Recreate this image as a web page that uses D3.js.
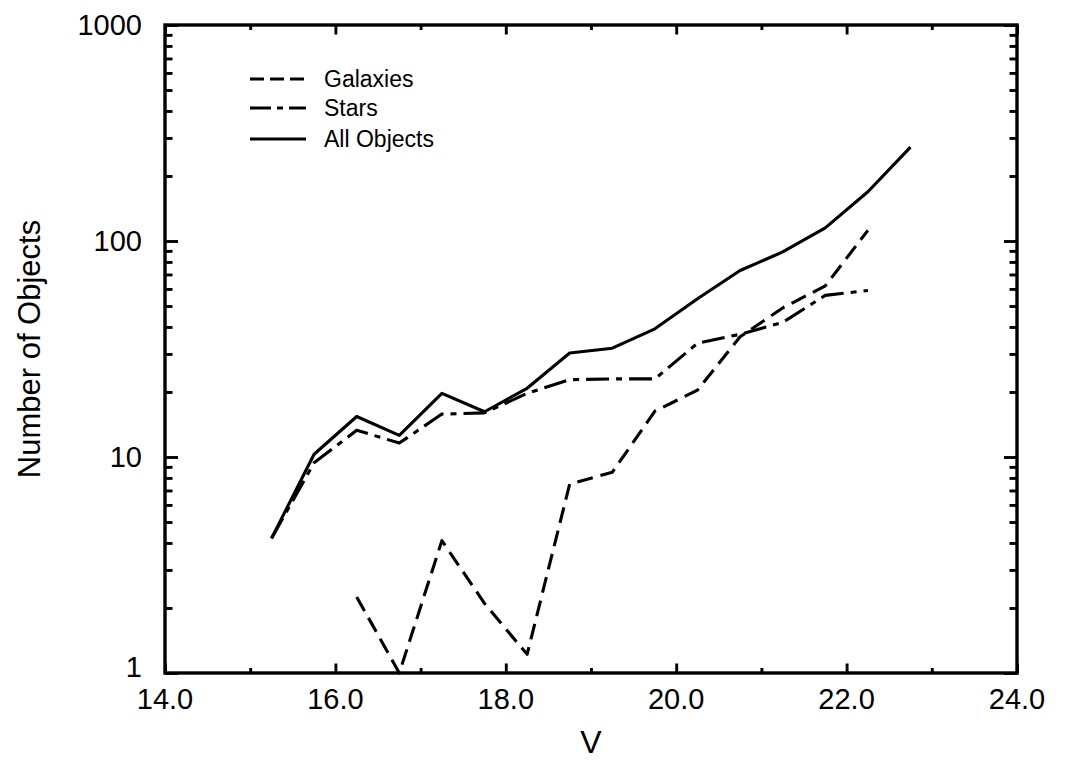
<!DOCTYPE html>
<html>
<head>
<meta charset="utf-8">
<script src="https://cdn.jsdelivr.net/npm/d3@7"></script>
<style>
  html, body { margin: 0; padding: 0; background: #fff; }
  svg { display: block; }
  text { font-family: "Liberation Sans", Arial, Helvetica, sans-serif; fill: #000; }
</style>
</head>
<body>
<svg id="chart" width="1085" height="782"></svg>
<script>
// Magnitude bins (V) and object counts per bin
const magnitudes = [15.25, 15.75, 16.25, 16.75, 17.25, 17.75, 18.25, 18.75,
                    19.25, 19.75, 20.25, 20.75, 21.25, 21.75, 22.25, 22.75];
const allObjects = [4.2, 10.3, 15.4, 12.6, 19.7, 16.2, 20.8, 30.3,
                    31.9, 39.2, 54, 73, 89, 115, 169, 272];
const stars      = [4.2, 9.4, 13.3, 11.6, 15.8, 16.0, 19.7, 22.8,
                    23.0, 23.0, 33.6, 37, 42, 56, 59, null];
const galaxies   = [null, null, 2.25, 1.0, 4.1, 2.1, 1.22, 7.5,
                    8.5, 16.3, 20.4, 36, 49, 62, 112, null];

const xTicks = [14, 16, 18, 20, 22, 24];
const xMinorTicks = [15, 17, 19, 21, 23];
const yTicks = [1, 10, 100, 1000];
const yMinorTicks = [];
[1, 10, 100].forEach(d => { for (let k = 2; k <= 9; k++) yMinorTicks.push(d * k); });

const series = [
  { name: "Galaxies",    values: galaxies,   dash: "16,8",     legendDash: "14,6" },
  { name: "Stars",       values: stars,      dash: "23,7,6,7", legendDash: "21,6,6,6" },
  { name: "All Objects", values: allObjects, dash: null,       legendDash: null }
];

const svg = d3.select("#chart");
const plotLeft = 165, plotRight = 1017, plotTop = 25, plotBottom = 673;

const x = d3.scaleLinear().domain([14, 24]).range([plotLeft, plotRight]);
const y = d3.scaleLog().domain([1, 1000]).range([plotBottom, plotTop]);

// Frame
svg.append("rect")
  .attr("x", plotLeft).attr("y", plotTop)
  .attr("width", plotRight - plotLeft).attr("height", plotBottom - plotTop)
  .attr("fill", "none").attr("stroke", "#000").attr("stroke-width", 3.4);

// Inward ticks on all four sides
function ticks(axisGen, tx, ty) {
  const g = svg.append("g").attr("transform", `translate(${tx},${ty})`).call(axisGen);
  g.select(".domain").remove();
  g.selectAll("text").remove();
  g.selectAll(".tick line").attr("stroke", "#000").attr("stroke-width", 2.9);
}
ticks(d3.axisRight(y).tickValues(yTicks).tickSize(13), plotLeft, 0);
ticks(d3.axisRight(y).tickValues(yMinorTicks).tickSize(7.5), plotLeft, 0);
ticks(d3.axisLeft(y).tickValues(yTicks).tickSize(13), plotRight, 0);
ticks(d3.axisLeft(y).tickValues(yMinorTicks).tickSize(7.5), plotRight, 0);
ticks(d3.axisTop(x).tickValues(xTicks).tickSize(9.5), 0, plotBottom);
ticks(d3.axisTop(x).tickValues(xMinorTicks).tickSize(5), 0, plotBottom);
ticks(d3.axisBottom(x).tickValues(xTicks).tickSize(9.5), 0, plotTop);
ticks(d3.axisBottom(x).tickValues(xMinorTicks).tickSize(5), 0, plotTop);

// Tick labels
svg.append("g").selectAll("text").data(xTicks).join("text")
  .attr("x", d => x(d)).attr("y", 709)
  .attr("text-anchor", "middle").attr("font-size", 29)
  .text(d => d3.format(".1f")(d));

// The bottom label sits a little higher so it clears the x labels
svg.append("g").selectAll("text").data(yTicks).join("text")
  .attr("x", 142).attr("y", d => y(d) - (d === 1 ? 6 : 0))
  .attr("dy", "0.36em")
  .attr("text-anchor", "end").attr("font-size", 29)
  .text(d => d);

// Axis titles
svg.append("text")
  .attr("x", (plotLeft + plotRight) / 2).attr("y", 753)
  .attr("text-anchor", "middle").attr("font-size", 32)
  .text("V");

svg.append("text")
  .attr("transform", `translate(40,${(plotTop + plotBottom) / 2}) rotate(-90)`)
  .attr("text-anchor", "middle").attr("font-size", 31)
  .text("Number of Objects");

// Data lines
const line = d3.line()
  .defined(d => d[1] != null)
  .x(d => x(d[0]))
  .y(d => y(d[1]));

series.forEach(s => {
  svg.append("path")
    .datum(magnitudes.map((m, i) => [m, s.values[i]]))
    .attr("d", line)
    .attr("fill", "none")
    .attr("stroke", "#000")
    .attr("stroke-width", 3.1)
    .attr("stroke-linejoin", "round")
    .attr("stroke-dasharray", s.dash);
});

// Legend
const legendRows = [79, 108, 139];
const legend = svg.append("g");
series.forEach((s, i) => {
  legend.append("line")
    .attr("x1", 250).attr("x2", 306)
    .attr("y1", legendRows[i]).attr("y2", legendRows[i])
    .attr("stroke", "#000").attr("stroke-width", 3.1)
    .attr("stroke-dasharray", s.legendDash);
  legend.append("text")
    .attr("x", 324).attr("y", legendRows[i] + 8)
    .attr("font-size", 23)
    .text(s.name);
});
</script>
</body>
</html>
